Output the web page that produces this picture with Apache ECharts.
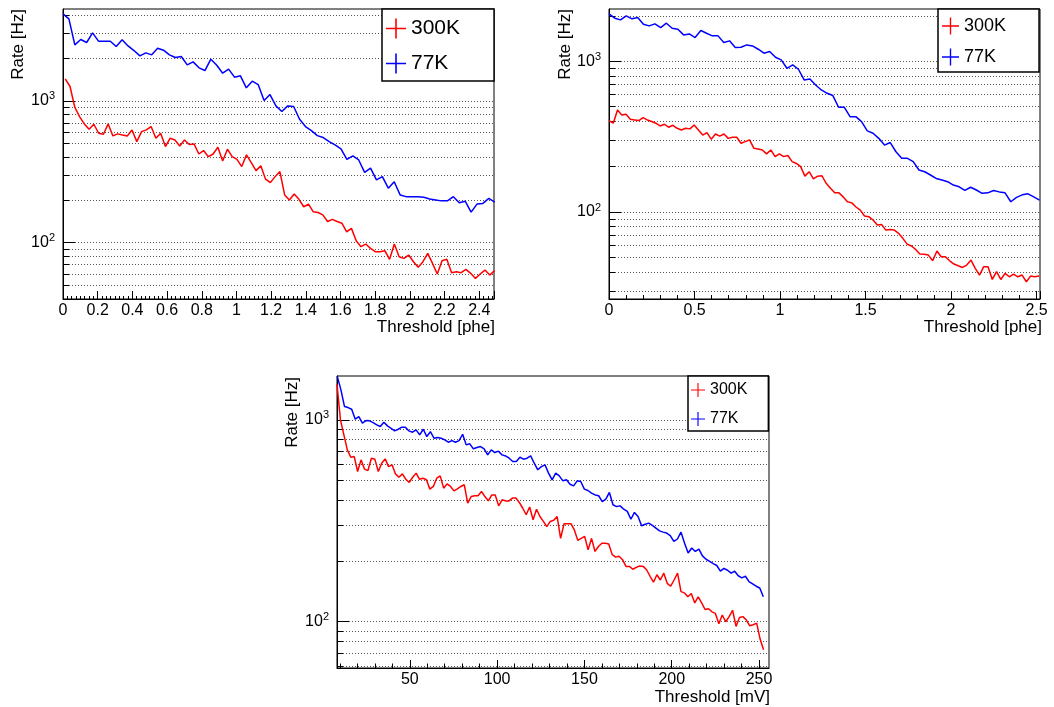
<!DOCTYPE html>
<html>
<head>
<meta charset="utf-8">
<script src="https://cdn.jsdelivr.net/npm/echarts@6/dist/echarts.min.js"></script>
<style>
  html, body { margin: 0; padding: 0; background: #fff; }
  #chart { width: 1054px; height: 707px; }
</style>
</head>
<body>
<div id="chart"></div>
<script>
// Threshold scans: first point and step of each scan (phe or mV)
const p1Scan300K = { start: 0.013, step: 0.0275 };
const p1Scan77K = { start: 0, step: 0.0341 };
const p2Scan300K = { start: 0, step: 0.0249 };
const p2Scan77K = { start: 0, step: 0.03356 };
const p3Scan300K = { start: 8.3, step: 1.97 };
const p3Scan77K = { start: 8.5, step: 2.05 };

// Rates [Hz]
const p1Rate300K = [1430, 1263, 902, 775, 688, 631, 684, 591, 582, 688, 566, 585, 575, 566, 624, 516, 607, 624, 659, 545,
  591, 476, 545, 530, 481, 530, 492, 497, 422, 446, 404, 422, 471, 377, 456, 404, 387, 344, 416, 367,
  322, 348, 280, 265, 292, 317, 217, 200, 220, 202, 179, 187, 165, 163, 157, 141, 146, 141, 137, 119,
  126, 103, 93.6, 97.7, 91.1, 86.3, 86.3, 87.7, 76.2, 97.7, 79.5, 77.4, 81.7, 73.3, 66.9, 73.3, 84, 71.4, 60, 74.5,
  76.2, 61.3, 62.3, 61.3, 64.7, 60.7, 55.9, 60, 64, 59, 63.4];
const p1Rate77K = [4111, 3793, 2484, 2711, 2582, 3021, 2638, 2638, 2638, 2419, 2698, 2443, 2266, 2078, 2181, 2112, 2355, 2279, 2112, 2023,
  2055, 1795, 1885, 1711, 1637, 1968, 1786, 1567, 1675, 1470, 1502, 1236, 1377, 1304, 1005, 1108, 922, 841,
  922, 912, 742, 659, 617, 569, 551, 516, 489, 458, 387, 409, 383, 313, 335, 277, 292, 242, 269, 217,
  211, 211, 211, 209, 203, 200, 197, 197, 211, 191, 196, 164, 187, 189, 205, 193];

const p2Rate300K = [404, 388, 475, 440, 445, 412, 408, 404, 423, 408, 398, 388, 372, 382, 365, 376, 359, 350, 359, 356,
  378, 350, 324, 336, 304, 329, 319, 329, 308, 313, 313, 286, 293, 301, 265, 262, 258, 243, 258, 233,
  243, 233, 237, 216, 210, 200, 173, 185, 166, 173, 174, 155, 144, 134, 134, 126, 117, 115, 108, 103,
  94.1, 93.1, 88.5, 82, 82.8, 75.9, 76.7, 75.9, 72.2, 66.9, 61.3, 59.5, 56.5, 52.6, 52.4, 51.8, 47.5, 55.1, 50.5, 50.5,
  47.5, 45.2, 44, 42.9, 44.5, 48, 42.3, 38.2, 43.4, 43.4, 35.7, 40.2, 35.7, 39.2, 37.2, 38.8, 37.2, 38.2, 34.5, 37.6,
  37.2, 37.6];
const p2Rate77K = [2062, 1929, 1881, 2000, 1910, 1949, 1761, 1716, 1770, 1673, 1787, 1656, 1631, 1495, 1518, 1436, 1598, 1534, 1473, 1473,
  1330, 1365, 1232, 1239, 1283, 1264, 1201, 1130, 1159, 1063, 1020, 898, 946, 885, 752, 763, 696, 645,
  613, 592, 495, 495, 429, 429, 398, 345, 333, 308, 278, 289, 251, 227, 227, 216, 190, 185, 176, 167,
  163, 159, 151, 147, 139, 146, 140, 133, 134, 139, 136, 134, 117, 125, 130, 132, 126, 120];

const p3Rate300K = [1500, 1000, 843, 710, 653, 658, 555, 634, 570, 561, 646, 639, 555, 610, 641, 587, 599, 540, 520, 540,
  508, 490, 520, 545, 508, 514, 505, 454, 468, 514, 528, 459, 482, 468, 445, 455, 468, 477, 387, 417,
  421, 421, 442, 417, 397, 425, 425, 375, 402, 397, 397, 410, 410, 390, 365, 339, 370, 320, 361, 332,
  314, 296, 314, 318, 332, 259, 306, 306, 306, 285, 253, 259, 265, 227, 259, 223, 236, 245, 245, 243,
  215, 209, 211, 203, 188, 188, 182, 186, 189, 188, 181, 168, 157, 171, 161, 174, 155, 150, 161, 174,
  141, 139, 133, 138, 124, 133, 124, 115, 116, 112, 110, 97.7, 108, 100, 106, 114, 94.8, 105, 106, 102,
  95.5, 96.6, 98.5, 82.1, 72.7];
const p3Rate77K = [1639, 1408, 1164, 1151, 1129, 1008, 1039, 963, 992, 989, 970, 945, 927, 974, 934, 909, 882, 899, 920, 920,
  882, 869, 892, 843, 899, 827, 875, 811, 818, 811, 796, 775, 790, 775, 790, 849, 752, 761, 719, 730,
  738, 719, 671, 710, 689, 700, 671, 663, 646, 622, 622, 653, 639, 646, 663, 610, 566, 587, 599, 545,
  505, 545, 528, 499, 505, 480, 471, 499, 495, 454, 447, 434, 425, 421, 394, 405, 437, 380, 372, 375,
  361, 352, 322, 348, 332, 299, 304, 308, 300, 291, 282, 278, 275, 267, 250, 257, 278, 245, 219, 232,
  223, 229, 212, 204, 199, 194, 190, 178, 184, 180, 174, 178, 169, 165, 168, 158, 154, 150, 147, 133];

// tick values
const p1YGrid = [40, 50, 60, 70, 80, 90, 100, 200, 300, 400, 500, 600, 700, 800, 900, 1000, 2000, 3000, 4000];
const p2YGrid = [30, 40, 50, 60, 70, 80, 90, 100, 200, 300, 400, 500, 600, 700, 800, 900, 1000, 2000];
const p3YGrid = [60, 70, 80, 90, 100, 200, 300, 400, 500, 600, 700, 800, 900, 1000];
const yDecades = [100, 1000];
const p3XLabels = [50, 100, 150, 200, 250];
const p3XTicks = [10, 20, 30, 40, 50, 60, 70, 80, 90, 100, 110, 120, 130, 140, 150, 160, 170, 180, 190, 200, 210, 220, 230, 240, 250];
const legendNames = ['300K', '77K'];

const FONT = '"Liberation Sans", Arial, Helvetica, sans-serif';
const RED = '#ff0000';
const BLUE = '#0000ff';
const PLUS = 'path://M0,9.2H20V10.8H0Z M9.2,0H10.8V20H9.2Z';

function scan(s, values) {
  return values.map((v, i) => [+(s.start + i * s.step).toFixed(4), v]);
}

const chart = echarts.init(document.getElementById('chart'), null, { renderer: 'canvas' });

const frame = { show: true, borderColor: '#000', borderWidth: 1, backgroundColor: 'transparent', outerBoundsMode: 'none' };
const grids = [
  Object.assign({ left: 63, top: 9, width: 431, height: 290 }, frame),
  Object.assign({ left: 609, top: 9, width: 431, height: 290 }, frame),
  Object.assign({ left: 337, top: 376, width: 432, height: 292 }, frame)
];

const black = { color: '#000', width: 1 };

function xMain(gi, min, max, extra) {
  return Object.assign({
    gridIndex: gi, type: 'value', min: min, max: max, position: 'bottom',
    axisLine: { show: true, onZero: false, lineStyle: black },
    axisTick: { show: true, inside: true, length: 8, lineStyle: black },
    splitLine: { show: false },
    axisLabel: { fontSize: 16, margin: 4, color: '#000', fontFamily: FONT, showMaxLabel: false }
  }, extra);
}

function yMain(gi, min, max, gridVals, fs) {
  return {
    gridIndex: gi, type: 'log', logBase: 10, min: min, max: max, position: 'left',
    axisLine: { show: true, onZero: false, lineStyle: black },
    axisTick: { show: true, inside: true, length: 6, customValues: gridVals, lineStyle: black },
    splitLine: { show: true, lineStyle: { color: '#555', width: 1, type: [1, 2] } },
    minorTick: { show: false },
    axisLabel: {
      customValues: yDecades, margin: 8, fontSize: fs, lineHeight: 20, color: '#000', fontFamily: FONT,
      formatter: v => '10{e|' + Math.round(Math.log10(v)) + '}',
      rich: { e: { fontSize: 11, lineHeight: 11, verticalAlign: 'top', color: '#000', fontFamily: FONT } }
    }
  };
}

// long decade ticks drawn by an extra axis folded onto the left edge
function yDeco(gi, min, max, width) {
  return {
    gridIndex: gi, type: 'log', logBase: 10, min: min, max: max, position: 'right', offset: -width,
    axisLine: { show: false, onZero: false },
    axisTick: { show: true, inside: false, length: 12, customValues: yDecades, lineStyle: black },
    axisLabel: { show: false },
    splitLine: { show: false }
  };
}

const xAxes = [
  xMain(0, 0, 2.485, { interval: 0.2, minorTick: { show: true, splitNumber: 8, length: 3, lineStyle: black } }),
  xMain(1, 0, 2.52, { interval: 0.5, minorTick: { show: true, splitNumber: 5, length: 4, lineStyle: black } }),
  xMain(2, 8.3, 255.7, {
    axisTick: { show: true, inside: true, length: 4.5, customValues: p3XTicks, lineStyle: black },
    axisLabel: { customValues: p3XLabels, fontSize: 16, margin: 4, color: '#000', fontFamily: FONT }
  }),
  {
    gridIndex: 2, type: 'value', min: 8.3, max: 255.7, position: 'top', offset: -292,
    axisLine: { show: false, onZero: false },
    axisTick: { show: true, inside: false, length: 8, customValues: p3XLabels, lineStyle: black },
    axisLabel: { show: false },
    splitLine: { show: false }
  }
];

const yAxes = [
  yMain(0, 40, 4450, p1YGrid, 16),
  yMain(1, 26.5, 2220, p2YGrid, 16),
  yMain(2, 59, 1650, p3YGrid, 16),
  yDeco(0, 40, 4450, 431),
  yDeco(1, 26.5, 2220, 431),
  yDeco(2, 59, 1650, 432)
];

function line(name, color, xi, yi, data) {
  return {
    name: name, type: 'line', xAxisIndex: xi, yAxisIndex: yi, data: data,
    showSymbol: false, symbol: 'none', color: color,
    lineStyle: { width: 1.5, color: color }, clip: true
  };
}

const series = [
  line('300K', RED, 0, 0, scan(p1Scan300K, p1Rate300K)),
  line('77K', BLUE, 0, 0, scan(p1Scan77K, p1Rate77K)),
  line('300K', RED, 1, 1, scan(p2Scan300K, p2Rate300K)),
  line('77K', BLUE, 1, 1, scan(p2Scan77K, p2Rate77K)),
  line('300K', RED, 2, 2, scan(p3Scan300K, p3Rate300K)),
  line('77K', BLUE, 2, 2, scan(p3Scan77K, p3Rate77K))
];

function legendBox(left, top, size, font, gap, padding) {
  return {
    left: left, top: top, orient: 'vertical', data: legendNames, icon: PLUS,
    itemWidth: size, itemHeight: size, itemGap: gap, padding: padding,
    borderColor: '#000', borderWidth: 1.5, backgroundColor: '#fff', selectedMode: false,
    itemStyle: { borderWidth: 0 },
    textStyle: { fontSize: font, color: '#000', fontFamily: FONT }
  };
}

const legends = [
  legendBox(382, 9, 20, 21, 14, [9, 34, 7, 4]),
  legendBox(938, 9, 17, 18, 13, [8, 33, 6, 4]),
  legendBox(688, 376, 14, 16, 13, [6, 21, 4, 3])
];

function title(text, x, y, vertical) {
  return {
    type: 'text', x: x, y: y, rotation: vertical ? Math.PI / 2 : 0, z: 10,
    style: { text: text, fontSize: 17, fontFamily: FONT, fill: '#000', align: 'right', verticalAlign: 'middle' }
  };
}

chart.setOption({
  animation: false,
  backgroundColor: '#fff',
  grid: grids,
  xAxis: xAxes,
  yAxis: yAxes,
  legend: legends,
  series: series,
  graphic: [
    title('Rate [Hz]', 18, 9, true),
    title('Threshold [phe]', 495, 327, false),
    title('Rate [Hz]', 565, 9, true),
    title('Threshold [phe]', 1042, 327, false),
    title('Rate [Hz]', 292, 377, true),
    title('Threshold [mV]', 770, 697, false)
  ]
});
</script>
</body>
</html>
